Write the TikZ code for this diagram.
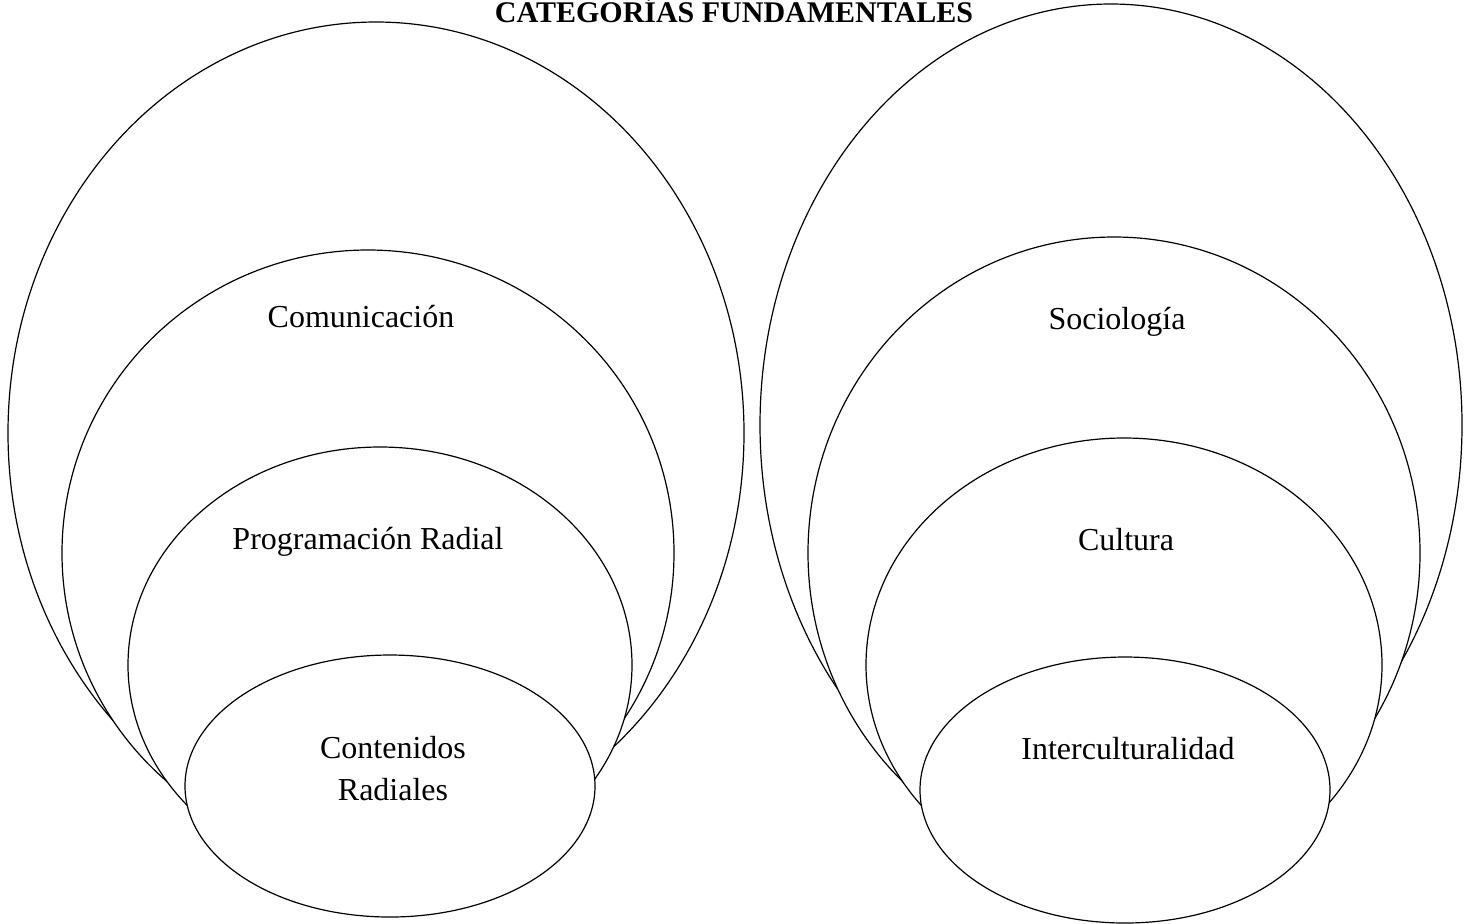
\documentclass[tikz,border=0pt]{standalone}
\usepackage{fontspec}
\setmainfont{Liberation Serif}
\usepackage{tikz}

\tikzset{
  ring/.style={draw=black, line width=0.6pt, fill=white},
  tag/.style={font=\fontsize{16}{21}\selectfont, align=center}
}

\begin{document}
\begin{tikzpicture}[x=0.5pt, y=-0.5pt]
  \clip (0,0) rectangle (1476,923);
  \useasboundingbox (0,0) rectangle (1476,923);
  % left set of rings
  \draw[ring] (376,433) ellipse [x radius=368, y radius=411];
  \draw[ring] (368,553) ellipse [x radius=306, y radius=303];
  \draw[ring] (380,665) ellipse [x radius=252, y radius=218];
  \draw[ring] (390,786) ellipse [x radius=205, y radius=131];
  % right set of rings
  \draw[ring] (1111,425) ellipse [x radius=351, y radius=421];
  \draw[ring] (1114,553) ellipse [x radius=306, y radius=316];
  \draw[ring] (1124,665) ellipse [x radius=258, y radius=227];
  \draw[ring] (1125,790) ellipse [x radius=205, y radius=133];
  % labels
  \node[font=\fontsize{15}{18}\selectfont\bfseries, anchor=base] (title) at (734,22) {CATEGORÍAS FUNDAMENTALES};
  \node[tag] (comunicacion) at (361,317) {Comunicación};
  \node[tag] (programacion) at (368,542) {Programación Radial};
  \node[tag] (contenidos) at (393,769) {Contenidos\\Radiales};
  \node[tag] (sociologia) at (1117,322) {Sociología};
  \node[tag] (cultura) at (1126,540) {Cultura};
  \node[tag] (intercultura) at (1128,749) {Interculturalidad};
\end{tikzpicture}
\end{document}
